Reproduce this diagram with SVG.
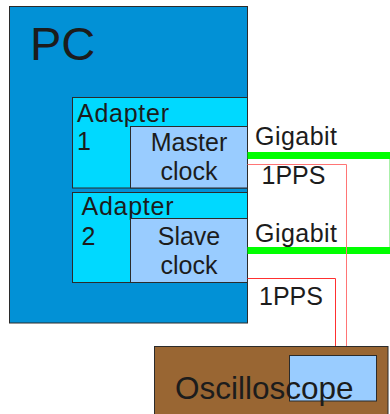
<svg xmlns="http://www.w3.org/2000/svg" width="390" height="414" viewBox="0 0 390 414">
  <style>
    text { font-family: "Liberation Sans", Arial, sans-serif; fill: #1c1c1c; }
    .box { stroke: #2b2b2b; stroke-width: 1; }
    .lbl { font-size: 25px; }
    .mid { text-anchor: middle; }
    .gig { stroke: #00ff00; stroke-width: 7; fill: none; }
    .pps1 { stroke: #ff7575; stroke-width: 1; fill: none; }
    .pps2 { stroke: #ff3030; stroke-width: 1; fill: none; }
  </style>

  <!-- PC enclosure -->
  <g id="pc">
    <rect class="box" x="9.5" y="6.5" width="238" height="316.5" fill="#0291d6"/>
    <text x="30" y="60" font-size="47">PC</text>
  </g>

  <!-- network adapters, each carrying its clock -->
  <g id="adapter1">
    <rect class="box" x="72.5" y="97.5" width="175" height="90.5" fill="#00d9ff"/>
    <text class="lbl" x="77" y="121.5" textLength="92" lengthAdjust="spacing">Adapter</text>
    <text class="lbl" x="77" y="150">1</text>
  </g>
  <g id="master-clock">
    <rect class="box" x="130.5" y="126.5" width="117" height="61.5" fill="#99ccff"/>
    <text class="lbl mid" x="189" y="151">Master</text>
    <text class="lbl mid" x="189" y="180">clock</text>
  </g>

  <g id="adapter2">
    <rect class="box" x="72.5" y="192.5" width="175" height="90" fill="#00d9ff"/>
    <text class="lbl" x="81.5" y="215" textLength="92" lengthAdjust="spacing">Adapter</text>
    <text class="lbl" x="81.5" y="245">2</text>
  </g>
  <g id="slave-clock">
    <rect class="box" x="130.5" y="218.5" width="117" height="64" fill="#99ccff"/>
    <text class="lbl mid" x="189" y="245">Slave</text>
    <text class="lbl mid" x="189" y="273.5">clock</text>
  </g>

  <!-- oscilloscope -->
  <g id="oscilloscope">
    <rect class="box" x="154.5" y="346.5" width="233.5" height="80" fill="#996633"/>
    <rect class="box" x="289.5" y="355.5" width="87" height="45.5" fill="#99ccff"/>
    <text x="175" y="398.5" font-size="31.5">Oscilloscope</text>
  </g>

  <!-- links -->
  <g id="connectors">
    <line x1="389.5" y1="158" x2="389.5" y2="248" stroke="#aaf0aa" stroke-width="1"/>
    <line class="gig" x1="247.5" y1="155.5" x2="390" y2="155.5"/>
    <line class="gig" x1="247.5" y1="250.5" x2="390" y2="250.5"/>
    <polyline class="pps1" points="247.5,164.5 346.5,164.5 346.5,346"/>
    <polyline class="pps2" points="247.5,278.5 335.5,278.5 335.5,346"/>
    <text class="lbl" x="255" y="145" textLength="82" lengthAdjust="spacing">Gigabit</text>
    <text class="lbl" x="261.5" y="183.5">1PPS</text>
    <text class="lbl" x="255" y="241.5" textLength="82" lengthAdjust="spacing">Gigabit</text>
    <text class="lbl" x="259" y="304.5">1PPS</text>
  </g>
</svg>
